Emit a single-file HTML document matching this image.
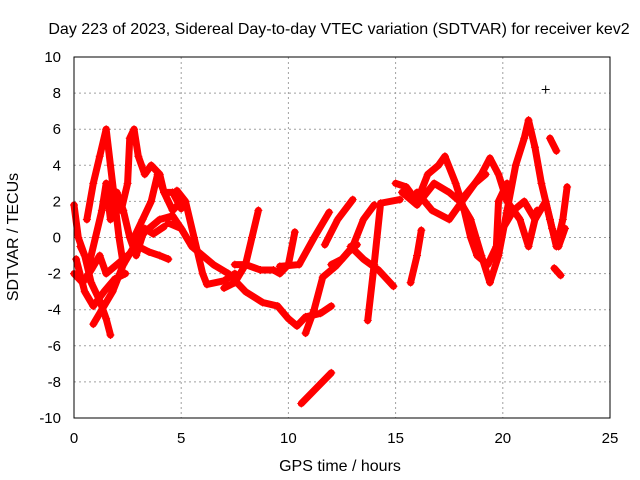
<!DOCTYPE html>
<html><head><meta charset="utf-8"><style>
body{margin:0;background:#fff}
svg{display:block;font-family:"Liberation Sans",sans-serif}
</style></head><body>
<svg id="chart" width="640" height="480">
<rect width="640" height="480" fill="#fff"/>
<text x="339" y="34" font-size="16" text-anchor="middle">Day 223 of 2023, Sidereal Day-to-day VTEC variation (SDTVAR) for receiver kev2</text>
<g id="grid"></g><g id="ticks"></g>
<g id="series"></g>
<rect x="74" y="57" width="536" height="361" fill="none" stroke="#000" stroke-width="1"/>
<text x="340" y="471" font-size="16" text-anchor="middle">GPS time / hours</text>
<text transform="translate(18,237) rotate(-90)" font-size="16" text-anchor="middle">SDTVAR / TECUs</text>
</svg>
<script>
const xTicks=[0,5,10,15,20,25];
const yTicks=[-10,-8,-6,-4,-2,0,2,4,6,8,10];
const tracks=[
[[0,1.8],[0.2,0],[0.5,-1],[0.8,-2.5],[1.2,-3.5],[1.5,-4.5],[1.7,-5.4]],
[[0.9,-4.8],[1.3,-4],[1.8,-3],[2.3,-1.5],[2.8,-0.5],[3.3,0.3],[4,1],[4.6,1.2],[5,0.5],[5.5,-0.5]],
[[0.6,1],[0.9,3],[1.2,4.5],[1.5,6],[1.7,4],[1.9,2],[2.1,0],[2.3,-1.5]],
[[2.2,1.5],[2.5,3],[2.6,5.5],[2.8,6],[3.0,4.5],[3.3,3.5],[3.6,4],[4,3.5],[4.2,2.5],[4.6,2.5],[5,1.6]],
[[2.8,0],[3.2,1],[3.6,2],[3.9,3.5],[4.2,2.5],[4.6,1.5],[5.0,2.0]],
[[0,-2],[0.4,-2.5],[0.8,-1.8],[1.2,-1],[1.5,-2],[2,-1.5],[2.5,-1],[3,-0.5],[3.5,-0.8],[4,-1],[4.4,-1.2]],
[[0.3,-0.5],[0.7,-1.5],[1.0,0],[1.3,1.5],[1.5,3],[1.7,1],[2.0,2.5],[2.3,1.5],[2.6,0],[2.9,-1],[3.3,0.5],[3.7,0.2],[4.2,0.6]],
[[0.1,-1.2],[0.5,-3],[0.9,-3.8],[1.4,-3],[1.9,-2.3],[2.4,-2]],
[[4.8,2.6],[5.2,2.0],[5.6,0],[6.0,-2.0],[6.2,-2.6],[7.0,-2.4],[7.5,-2.0]],
[[4.4,0.8],[5.0,0.5],[5.5,-0.5],[6.5,-1.5],[7.2,-2.0],[8.0,-3.0],[8.8,-3.6],[9.5,-3.8],[10,-4.5],[10.4,-4.9],[10.8,-4.4],[11.5,-4.2],[12,-3.8]],
[[7.0,-2.8],[7.5,-2.5],[8.0,-1.5],[8.3,0],[8.6,1.5]],
[[7.5,-1.5],[8,-1.5],[8.7,-1.8],[9.3,-1.8],[9.6,-2.0],[10,-1.5],[10.3,0.3]],
[[9.6,-1.6],[10.5,-1.5],[11.2,0],[11.9,1.4]],
[[11.7,-0.4],[12.3,1.0],[13,2.1]],
[[12,-1.5],[12.5,-1.2],[13,-0.5],[13.5,1.0],[14,1.8]],
[[12.9,-0.5],[13.5,-1.2],[14.2,-1.8],[14.9,-2.7]],
[[10.8,-5.3],[11.2,-4],[11.6,-2.2],[12.2,-1.6],[12.8,-0.8],[13.2,-0.4]],
[[13.7,-4.6],[14.0,-1.5],[14.3,1.9],[15.2,2.1]],
[[15.7,-2.5],[16.0,-1],[16.2,0.4]],
[[10.6,-9.2],[12.0,-7.5]],
[[15.0,3.0],[15.5,2.8],[16,2.0],[16.5,3.5],[17,4.0],[17.3,4.5],[17.8,3.0],[18.2,1.5],[18.5,0],[18.8,-1.0],[19.3,-1.5],[19.7,-0.5],[19.8,2],[20.2,3]],
[[16,2.5],[16.7,1.5],[17.5,1.0],[18.4,2.5],[19,3.5],[19.4,4.4],[19.8,3.5],[20.2,2],[20.8,1],[21.2,-0.5],[21.6,1.5]],
[[18,2],[18.5,1],[19,-1],[19.4,-2.5],[19.8,-1],[20.2,1.5],[20.6,4],[21,5.5],[21.2,6.5],[21.5,5],[21.8,3],[22.2,1],[22.5,-0.5],[22.8,1],[23,2.8]],
[[15.3,2.5],[16,1.8],[16.8,3],[17.5,2.5],[18,2],[18.7,3],[19.2,3.5]],
[[20,0.5],[20.5,1.5],[21,2],[21.5,1],[22,2],[22.3,0.5],[22.6,-0.5],[22.9,0.5]],
[[22.2,5.5],[22.5,4.8]],
[[22.4,-1.7],[22.7,-2.1]],
[[22,8.2]]
];
const NS="http://www.w3.org/2000/svg";
const X0=74,X1=610,Y0=418,Y1=57;
const sx=h=>X0+(h-0)/(25-0)*(X1-X0);
const sy=v=>Y0-(v+10)/20*(Y0-Y1);
const grid=document.getElementById('grid'),tk=document.getElementById('ticks'),ser=document.getElementById('series');
function mk(t,a,p){const e=document.createElementNS(NS,t);for(const k in a)e.setAttribute(k,a[k]);p.appendChild(e);return e;}
xTicks.forEach(t=>{const x=sx(t);
 if(t>0&&t<25){const l=mk('line',{x1:x,x2:x,y1:Y1,y2:Y0,stroke:'#a0a0a0','stroke-dasharray':'2,3'},grid);
 
 }
 const s=mk('text',{x:x,y:443,'font-size':15,'text-anchor':'middle'},tk);s.textContent=t;
 
 });
yTicks.forEach(t=>{const y=sy(t);
 if(t>-10&&t<10){const l=mk('line',{x1:X0,x2:X1,y1:y,y2:y,stroke:'#a0a0a0','stroke-dasharray':'2,3'},grid);
 
 }
 const s=mk('text',{x:61,y:y+5,'font-size':15,'text-anchor':'end'},tk);s.textContent=t;
 
 });
tracks.forEach(tr=>{
 if(tr.length>1){const pl=mk('polyline',{points:tr.map(p=>sx(p[0])+','+sy(p[1])).join(' '),fill:'none',stroke:'#ff0000','stroke-width':7,'stroke-linejoin':'round','stroke-linecap':'round'},ser);
 
 }
 tr.forEach(p=>{const x=sx(p[0]),y=sy(p[1]);
  const m=mk('path',{d:`M${x-4},${y}H${x+4}M${x},${y-4}V${y+4}`,stroke:tr.length>1?'#ff0000':'#000','stroke-width':1},ser);
  
  });
});
</script>
</body></html>
